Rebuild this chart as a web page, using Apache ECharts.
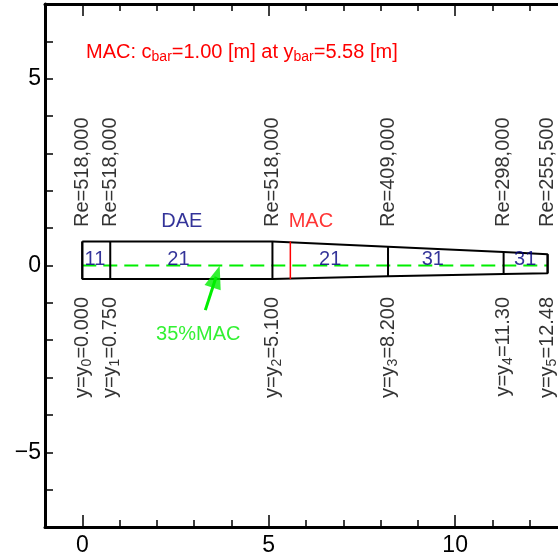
<!DOCTYPE html>
<html><head><meta charset="utf-8">
<script src="https://cdn.jsdelivr.net/npm/echarts@6/dist/echarts.min.js"></script>
<style>html,body{margin:0;padding:0;background:#fff}#c{width:558px;height:558px}</style>
</head><body><div id="c"></div>
<script>
// ---- data ----
const sectionY = [0, 0.75, 5.1, 8.2, 11.3, 12.48];
const sectionText = ['0.000', '0.750', '5.100', '8.200', '11.30', '12.48'];
const reynolds = [518000, 518000, 518000, 409000, 298000, 255500];
const edgeTop = [0.64, 0.64, 0.64, 0.50, 0.36, 0.30];
const edgeBottom = [-0.36, -0.36, -0.36, -0.29, -0.23, -0.21];
const airfoilIds = ['11', '21', '21', '31', '31'];
const airfoilX = [0.34, 2.58, 6.65, 9.40, 11.88];
const airfoilLabelY = 0.16;
const macChord = 1.00, macSpan = 5.58;
const macTop = 0.64, macBottom = -0.36;
const refLineY = 0;
const reLabelY = 1.03, posLabelY = -0.84;
const daePos = [2.67, 1.17];
const macLabelPos = [6.13, 1.17];
const arrowTail = [3.30, -1.195];
const arrowHeadCenter = [3.59, -0.30];
const arrowAngle = -17.9;
const pctLabelPos = [3.11, -1.84];
const xMajorTicks = [0, 5, 10];
const xMinorTicks = [-1, 0, 1, 2, 3, 4, 5, 6, 7, 8, 9, 10, 11, 12, 13];
const yTicks = [-7, -6, -5, -4, -3, -2, -1, 0, 1, 2, 3, 4, 5, 6, 7];
const yLabels = [-5, 0, 5];

const FONT = 'Liberation Sans, Arial, sans-serif';
const NAVY = '#000080', RED = '#ff0000', GREEN = '#00ee00';
const subRich = { s: { fontSize: 14, fontFamily: FONT, verticalAlign: 'bottom', lineHeight: 10 } };

// ---- derived series data ----
const outline = [];
for (let i = 0; i < sectionY.length; i++) outline.push([sectionY[i], edgeTop[i]]);
for (let i = sectionY.length - 1; i >= 0; i--) outline.push([sectionY[i], edgeBottom[i]]);
outline.push([sectionY[0], edgeTop[0]]);

const sectionLines = [];
sectionY.forEach((x, i) => { sectionLines.push([x, edgeTop[i]], [x, edgeBottom[i]], [x, '-']); });

function textPoint(x, y, text, color, extra) {
  return { value: [x, y], label: Object.assign({ show: true, formatter: text, color: color, fontSize: 20, fontFamily: FONT, lineHeight: 24, position: 'inside', rich: subRich }, extra || {}) };
}
const labels = [];
sectionY.forEach((x, i) => {
  labels.push(textPoint(x, reLabelY, 'Re=' + reynolds[i].toLocaleString('en-US'), '#000', { rotate: 90, align: 'left', verticalAlign: 'middle' }));
  labels.push(textPoint(x, posLabelY, 'y=y{s|' + i + '}=' + sectionText[i], '#000', { rotate: 90, align: 'right', verticalAlign: 'middle' }));
});
airfoilIds.forEach((t, i) => labels.push(textPoint(airfoilX[i], airfoilLabelY, t, NAVY, { align: 'center', verticalAlign: 'middle' })));
labels.push(textPoint(daePos[0], daePos[1], 'DAE', NAVY, { align: 'center', verticalAlign: 'middle' }));
labels.push(textPoint(macLabelPos[0], macLabelPos[1], 'MAC', RED, { align: 'center', verticalAlign: 'middle' }));
labels.push(textPoint(pctLabelPos[0], pctLabelPos[1], '35%MAC', GREEN, { align: 'center', verticalAlign: 'middle' }));

const axisBase = { type: 'value', min: -1, max: 13, splitLine: { show: false } };
const tickStyle = { color: '#000', width: 1.5 };

const option = {
  animation: false,
  backgroundColor: '#fff',
  title: {
    text: 'MAC: c{s|bar}=' + macChord.toFixed(2) + ' [m] at y{s|bar}=' + macSpan.toFixed(2) + ' [m]',
    left: 86, top: 40, padding: 0,
    textStyle: { color: RED, fontSize: 20, fontWeight: 'normal', fontFamily: FONT, lineHeight: 24, rich: { s: { fontSize: 14, fontFamily: FONT, color: RED, verticalAlign: 'bottom', lineHeight: 10 } } }
  },
  grid: { left: 45, top: 4, width: 522, height: 523, containLabel: false, outerBoundsMode: 'none' },
  xAxis: [
    Object.assign({}, axisBase, { position: 'bottom',
      axisLine: { show: true, onZero: false, lineStyle: { color: '#000', width: 3 } },
      axisTick: { show: true, inside: true, length: 12, customValues: xMajorTicks, lineStyle: tickStyle },
      axisLabel: { show: true, customValues: xMajorTicks, color: '#000', fontSize: 23, fontFamily: FONT, margin: 7 } }),
    Object.assign({}, axisBase, { position: 'bottom',
      axisLine: { show: false, onZero: false },
      axisTick: { show: true, inside: true, length: 7, customValues: xMinorTicks, lineStyle: tickStyle },
      axisLabel: { show: false } }),
    Object.assign({}, axisBase, { position: 'top',
      axisLine: { show: true, onZero: false, lineStyle: { color: '#000', width: 3 } },
      axisTick: { show: true, inside: true, length: 12, customValues: xMajorTicks, lineStyle: tickStyle },
      axisLabel: { show: false } }),
    Object.assign({}, axisBase, { position: 'top',
      axisLine: { show: false, onZero: false },
      axisTick: { show: true, inside: true, length: 7, customValues: xMinorTicks, lineStyle: tickStyle },
      axisLabel: { show: false } })
  ],
  yAxis: [
    { type: 'value', min: -7, max: 7, position: 'left', splitLine: { show: false },
      axisLine: { show: true, onZero: false, lineStyle: { color: '#000', width: 3 } },
      axisTick: { show: true, inside: true, length: 8, customValues: yTicks, lineStyle: tickStyle },
      axisLabel: { show: true, customValues: yLabels, color: '#000', fontSize: 23, fontFamily: FONT, margin: 4,
        formatter: v => (v < 0 ? '\u2212' + Math.abs(v) : String(v)) } }
  ],
  series: [
    { type: 'line', data: [[sectionY[0], refLineY], [sectionY[sectionY.length - 1], refLineY]], symbol: 'none', silent: true,
      lineStyle: { color: GREEN, width: 2, type: [14, 7] }, z: 3 },
    { type: 'line', data: outline, symbol: 'none', silent: true, lineStyle: { color: '#000', width: 2 }, z: 4 },
    { type: 'line', data: sectionLines, symbol: 'none', silent: true, connectNulls: false, lineStyle: { color: '#000', width: 2 }, z: 4 },
    { type: 'line', data: [[macSpan, macTop], [macSpan, macBottom]], symbol: 'none', silent: true, lineStyle: { color: RED, width: 1.5 }, z: 5 },
    { type: 'line', data: [arrowTail, arrowHeadCenter], symbol: 'none', silent: true, lineStyle: { color: GREEN, width: 3 }, z: 5 },
    { type: 'scatter', data: [arrowHeadCenter], symbol: 'triangle', symbolSize: [17, 23], symbolRotate: arrowAngle, silent: true,
      itemStyle: { color: GREEN }, z: 5 },
    { type: 'scatter', data: labels, symbolSize: 1, silent: true, itemStyle: { color: 'rgba(0,0,0,0)' }, z: 6 }
  ]
};
const chart = echarts.init(document.getElementById('c'), null, { renderer: 'canvas' });
chart.setOption(option);
</script></body></html>
